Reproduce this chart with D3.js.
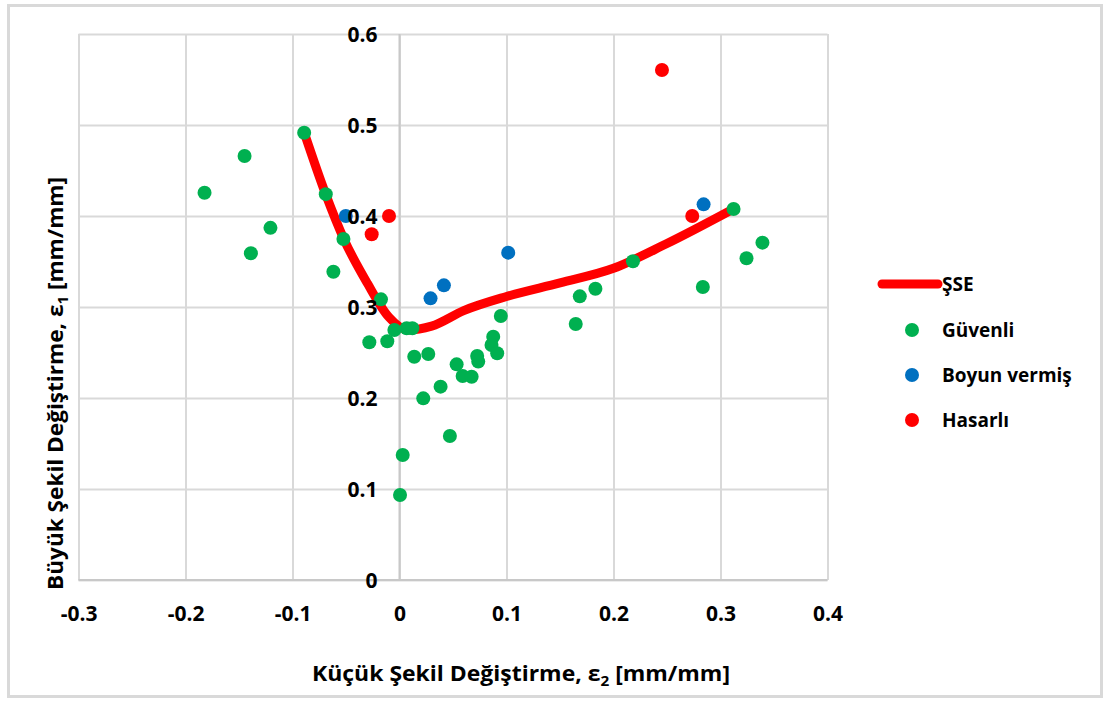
<!DOCTYPE html>
<html>
<head>
<meta charset="utf-8">
<script src="https://cdn.jsdelivr.net/npm/d3@7"></script>
<style>
html,body{margin:0;padding:0;background:#fff;}
text{font-family:"Open Sans",sans-serif;font-weight:bold;fill:#000;}
</style>
</head>
<body>
<svg id="chart" width="1105" height="702"></svg>
<script>
// ---- data ----
const xTicks = [-0.3, -0.2, -0.1, 0, 0.1, 0.2, 0.3, 0.4];
const yTicks = [0, 0.1, 0.2, 0.3, 0.4, 0.5, 0.6];

const sseX = [-0.089, -0.069, -0.052, -0.030, -0.010, 0.008, 0.030, 0.060, 0.100, 0.150, 0.200, 0.249, 0.312];
const sseY = [0.4915, 0.424, 0.3747, 0.326, 0.289, 0.2748, 0.2790, 0.2960, 0.3115, 0.3265, 0.3425, 0.3692, 0.4077];

const guvenliX = [-0.1822, -0.1448, -0.1389, -0.1206, -0.0891, -0.0689, -0.0618, -0.0524, -0.0173, -0.0282, -0.0114, -0.0048, 0.0067, 0.012, 0.0138, 0.0269, 0.0534, 0.059, 0.0674, 0.0726, 0.0736, 0.0876, 0.086, 0.0913, 0.0947, 0.0384, 0.0222, 0.0471, 0.003, 0.0005, 0.1647, 0.1685, 0.1831, 0.2182, 0.2835, 0.3122, 0.3243, 0.3392];
const guvenliY = [0.4256, 0.466, 0.359, 0.387, 0.4915, 0.424, 0.3388, 0.3747, 0.3084, 0.2612, 0.2623, 0.2747, 0.2766, 0.2766, 0.2454, 0.2484, 0.237, 0.2242, 0.2234, 0.2462, 0.24, 0.2674, 0.2582, 0.2491, 0.2901, 0.2125, 0.1996, 0.1582, 0.1374, 0.0934, 0.2813, 0.3117, 0.3201, 0.3502, 0.322, 0.4077, 0.3535, 0.3707];

const boyunX = [-0.0502, 0.029, 0.0415, 0.1016, 0.2842];
const boyunY = [0.400, 0.3095, 0.3238, 0.3597, 0.4128];

const hasarliX = [-0.0098, -0.026, 0.2453, 0.2736];
const hasarliY = [0.400, 0.380, 0.5604, 0.400];

const seriesNames = ["ŞSE", "Güvenli", "Boyun vermiş", "Hasarlı"];
const seriesColors = ["#FF0000", "#00B050", "#0070C0", "#FF0000"];

// ---- chart ----
const svg = d3.select("#chart");
svg.append("rect").attr("x",0).attr("y",0).attr("width",1105).attr("height",702).attr("fill","#fff");
svg.append("rect").attr("x",8.5).attr("y",5.5).attr("width",1093).attr("height",691)
  .attr("fill","none").attr("stroke","#d9d9d9").attr("stroke-width",3);

const x = d3.scaleLinear().domain([-0.3, 0.4]).range([78.5, 827.5]);
const y = d3.scaleLinear().domain([0, 0.6]).range([580, 34]);
const fmt = d => String(d);

// gridlines
const gx = svg.append("g").attr("transform", `translate(0,${y(0)})`)
  .call(d3.axisBottom(x).tickValues(xTicks).tickSize(-(y(0)-y(0.6))).tickFormat(""));
gx.select(".domain").remove();
gx.selectAll("line").attr("stroke","#d9d9d9").attr("stroke-width",2);

const gy = svg.append("g").attr("transform", `translate(${x(-0.3)},0)`)
  .call(d3.axisLeft(y).tickValues(yTicks).tickSize(-(x(0.4)-x(-0.3))).tickFormat(""));
gy.select(".domain").remove();
gy.selectAll("line").attr("stroke","#d9d9d9").attr("stroke-width",2);

// axis lines
svg.append("line").attr("x1",x(-0.3)).attr("x2",x(0.4)).attr("y1",y(0)).attr("y2",y(0))
  .attr("stroke","#c8c8c8").attr("stroke-width",2);
svg.append("line").attr("x1",x(0)).attr("x2",x(0)).attr("y1",y(0)).attr("y2",y(0.6))
  .attr("stroke","#c8c8c8").attr("stroke-width",2);

// ŞSE line
const sse = sseX.map((v,i)=>[v, sseY[i]]);
svg.append("path").datum(sse)
  .attr("d", d3.line().x(d=>x(d[0])).y(d=>y(d[1])).curve(d3.curveMonotoneX))
  .attr("fill","none").attr("stroke",seriesColors[0]).attr("stroke-width",9)
  .attr("stroke-linecap","round").attr("stroke-linejoin","round");

// scatter
function dots(xs, ys, color){
  svg.append("g").selectAll("circle").data(xs.map((v,i)=>[v, ys[i]])).join("circle")
    .attr("cx", d=>x(d[0])).attr("cy", d=>y(d[1])).attr("r", 7).attr("fill", color);
}
dots(guvenliX, guvenliY, seriesColors[1]);
dots(boyunX, boyunY, seriesColors[2]);
dots(hasarliX, hasarliY, seriesColors[3]);

// tick labels
const ax = svg.append("g").attr("transform", `translate(0,${y(0)})`)
  .call(d3.axisBottom(x).tickValues(xTicks).tickSize(0).tickPadding(0).tickFormat(fmt));
ax.select(".domain").remove();
ax.selectAll("text").attr("y", 33).attr("dy","0.36em").style("font-size","21px")
  .style("font-family","'Open Sans',sans-serif").style("font-weight","bold");

const ay = svg.append("g").attr("transform", `translate(${x(0)},0)`)
  .call(d3.axisLeft(y).tickValues(yTicks).tickSize(0).tickPadding(22).tickFormat(fmt));
ay.select(".domain").remove();
ay.selectAll("text").attr("dy","0.36em").style("font-size","21px")
  .style("font-family","'Open Sans',sans-serif").style("font-weight","bold");

// axis titles
const xt = svg.append("text").attr("x", 521).attr("y", 681).attr("text-anchor","middle")
  .style("font-size","21px").attr("textLength", 418).attr("lengthAdjust","spacingAndGlyphs");
xt.append("tspan").text("Küçük Şekil Değiştirme, ε");
xt.append("tspan").attr("dy", 5).style("font-size","14px").text("2");
xt.append("tspan").attr("dy", -5).text(" [mm/mm]");

const yt = svg.append("text").attr("transform","translate(63,383.5) rotate(-90)").attr("text-anchor","middle")
  .style("font-size","21px").attr("textLength", 413).attr("lengthAdjust","spacingAndGlyphs");
yt.append("tspan").text("Büyük Şekil Değiştirme, ε");
yt.append("tspan").attr("dy", 5).style("font-size","14px").text("1");
yt.append("tspan").attr("dy", -5).text("  [mm/mm]");

// legend
const lg = svg.append("g");
lg.append("line").attr("x1",882).attr("x2",938).attr("y1",284).attr("y2",284)
  .attr("stroke",seriesColors[0]).attr("stroke-width",9).attr("stroke-linecap","round");
const legY = [284, 330, 375, 420];
seriesNames.forEach((n,i)=>{
  if(i>0) lg.append("circle").attr("cx",912).attr("cy",legY[i]).attr("r",7).attr("fill",seriesColors[i]);
  lg.append("text").attr("x",942).attr("y",legY[i]).attr("dy","0.36em").style("font-size","19px").text(n);
});
</script>
</body>
</html>
